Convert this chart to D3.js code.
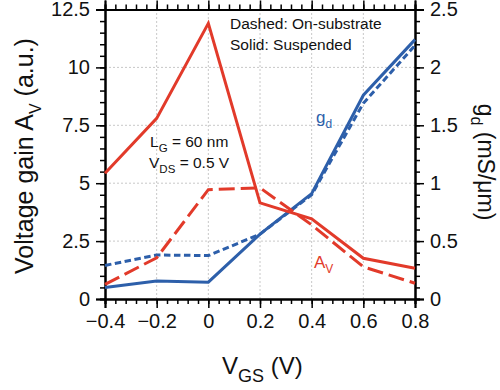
<!DOCTYPE html>
<html>
<head>
<meta charset="utf-8">
<script src="https://cdn.jsdelivr.net/npm/d3@7"></script>
<style>
	body { margin: 0; background: #fff; }
	text { font-family: "Liberation Sans", Arial, sans-serif; fill: #111; }
</style>
</head>
<body>
<svg id="chart" width="500" height="390"></svg>
<script>
// gate voltage points
const vgs = [-0.4, -0.2, 0, 0.2, 0.4, 0.6, 0.8];
// voltage gain (left axis)
const avSuspended = [5.43, 7.8, 11.9, 4.15, 3.46, 1.76, 1.33];
const avSubstrate = [0.63, 1.78, 4.72, 4.8, 3.2, 1.39, 0.68];
// output conductance (right axis)
const gdSuspended = [0.1, 0.155, 0.145, 0.56, 0.91, 1.76, 2.24];
const gdSubstrate = [0.29, 0.38, 0.375, 0.56, 0.9, 1.69, 2.19];

const xTicks = [-0.4, -0.2, 0, 0.2, 0.4, 0.6, 0.8];
const yLeftTicks = [0, 2.5, 5, 7.5, 10, 12.5];
const yRightTicks = [0, 0.5, 1, 1.5, 2, 2.5];

const RED = '#e23a2a';
const BLUE = '#2d5faa';

const margin = {left: 105, right: 85, top: 9.5, bottom: 91};
const W = 500, H = 390;

const svg = d3.select('#chart');

const x = d3.scaleLinear().domain([-0.4, 0.8]).range([margin.left, W - margin.right]);
const yL = d3.scaleLinear().domain([0, 12.5]).range([H - margin.bottom, margin.top]);
const yR = d3.scaleLinear().domain([0, 2.5]).range([H - margin.bottom, margin.top]);

// grid
const grid = svg.append('g').attr('stroke', '#c8c8c8').attr('stroke-width', 1).attr('stroke-dasharray', '2,2');
xTicks.slice(1, -1).forEach(t => {
	grid.append('line').attr('x1', x(t)).attr('x2', x(t)).attr('y1', yL(0)).attr('y2', yL(12.5));
});
yLeftTicks.slice(1, -1).forEach(t => {
	grid.append('line').attr('x1', x(-0.4)).attr('x2', x(0.8)).attr('y1', yL(t)).attr('y2', yL(t));
});

// axes with minor ticks
function minor(scale, step) {
	const [a, b] = scale.domain();
	let out = [];
	for (let v = a; v <= b + 1e-9; v += step) out.push(+v.toFixed(4));
	return out;
}
const fmt = d => (d < 0 ? '\u2212' + Math.abs(d) : '' + d);

function drawAxis(axisFn, scale, ticks, step, transform, labels) {
	const g = svg.append('g').attr('transform', transform);
	g.call(axisFn(scale).tickValues(minor(scale, step)).tickSize(5).tickFormat(''));
	const major = svg.append('g').attr('transform', transform);
	const ax = axisFn(scale).tickValues(ticks).tickSize(9).tickPadding(6);
	if (labels) ax.tickFormat(fmt); else ax.tickFormat('');
	major.call(ax);
	[g, major].forEach(s => {
		s.selectAll('path').attr('stroke', '#000').attr('stroke-width', 2);
		s.selectAll('line').attr('stroke', '#000').attr('stroke-width', 1.5);
		s.selectAll('text').style('font-size', '20px').attr('fill', '#111');
	});
	return major;
}

drawAxis(d3.axisBottom, x, xTicks, 0.04, `translate(0,${yL(0)})`, true);
drawAxis(d3.axisTop, x, xTicks, 0.04, `translate(0,${yL(12.5)})`, false);
drawAxis(d3.axisLeft, yL, yLeftTicks, 0.5, `translate(${x(-0.4)},0)`, true);
drawAxis(d3.axisRight, yR, yRightTicks, 0.1, `translate(${x(0.8)},0)`, true);

// lines
const lineL = d3.line().x((d, i) => x(vgs[i])).y(d => yL(d));
const lineR = d3.line().x((d, i) => x(vgs[i])).y(d => yR(d));

const plot = svg.append('g');
plot.append('path').attr('d', lineR(gdSubstrate)).attr('fill', 'none')
	.attr('stroke', BLUE).attr('stroke-width', 3).attr('stroke-dasharray', '6.5,3.5');
plot.append('path').attr('d', lineR(gdSuspended)).attr('fill', 'none')
	.attr('stroke', BLUE).attr('stroke-width', 3);
plot.append('path').attr('d', lineL(avSubstrate)).attr('fill', 'none')
	.attr('stroke', RED).attr('stroke-width', 3).attr('stroke-dasharray', '16,6');
plot.append('path').attr('d', lineL(avSuspended)).attr('fill', 'none')
	.attr('stroke', RED).attr('stroke-width', 3);

// texts
function subText(sel, main, sub, rest, size, subSize, drop) {
	const dy = drop || size * 0.3;
	sel.append('tspan').text(main);
	sel.append('tspan').text(sub).attr('dy', dy).style('font-size', subSize + 'px');
	if (rest) sel.append('tspan').text(rest).attr('dy', -dy);
}

svg.append('text').attr('x', 230).attr('y', 29).style('font-size', '15.5px').text('Dashed: On-substrate');
svg.append('text').attr('x', 230).attr('y', 50).style('font-size', '15.5px').text('Solid: Suspended');

let t = svg.append('text').attr('x', 150).attr('y', 147).style('font-size', '15.5px');
subText(t, 'L', 'G', ' = 60 nm', 15.5, 11.5);
t = svg.append('text').attr('x', 149).attr('y', 168).style('font-size', '15.5px');
subText(t, 'V', 'DS', ' = 0.5 V', 15.5, 11.5);

t = svg.append('text').attr('x', 316).attr('y', 123).style('font-size', '17px').style('fill', BLUE);
subText(t, 'g', 'd', null, 17, 12);
t = svg.append('text').attr('x', 314).attr('y', 268).style('font-size', '17px').style('fill', RED);
subText(t, 'A', 'V', null, 17, 12);

// axis titles
t = svg.append('text').attr('x', 222).attr('y', 374).style('font-size', '24px');
subText(t, 'V', 'GS', ' (V)', 24, 18, 8);

t = svg.append('text').attr('transform', `translate(33,156) rotate(-90)`)
	.attr('text-anchor', 'middle').style('font-size', '25px');
subText(t, 'Voltage gain A', 'V', ' (a.u.)', 25, 16);

t = svg.append('text').attr('transform', `translate(478,162) rotate(90)`)
	.attr('text-anchor', 'middle').style('font-size', '23px');
subText(t, 'g', 'd', ' (mS/\u03bcm)', 23, 16);
</script>
</body>
</html>
